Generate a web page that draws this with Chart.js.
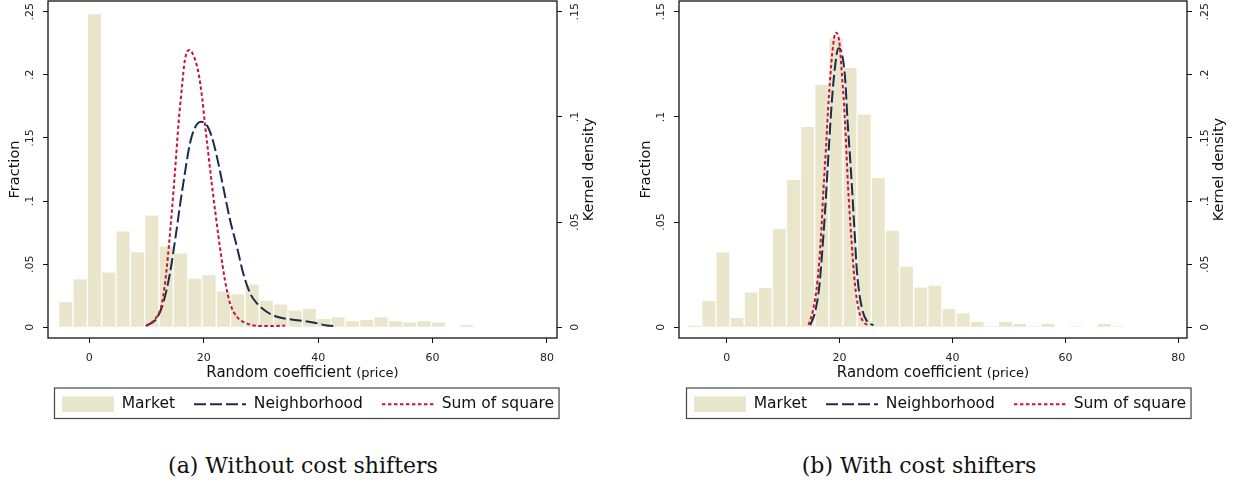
<!DOCTYPE html>
<html>
<head>
<meta charset="utf-8">
<script src="https://cdn.jsdelivr.net/npm/chart.js@4.4.1/dist/chart.umd.min.js"></script>
<style>
  body { margin: 0; background: #fff; }
  #page { position: relative; width: 1240px; height: 487px; overflow: hidden; background: #fff; }
  .panel { position: absolute; top: 0; width: 620px; height: 422px; }
  .caption {
    position: absolute; top: 452px; width: 400px; text-align: center;
    font-family: 'DejaVu Serif', serif; font-size: 22px; line-height: 28px; color: #111;
  }
</style>
</head>
<body>
<div id="page">
  <div class="panel" style="left:0"><canvas id="chartA" width="620" height="422"></canvas></div>
  <div class="panel" style="left:620px"><canvas id="chartB" width="620" height="422"></canvas></div>
  <div class="caption" style="left:103px">(a) Without cost shifters</div>
  <div class="caption" style="left:719px">(b) With cost shifters</div>
</div>
<script>
// (a) without cost shifters: histogram bins (centres) and fractions
const binsA = [-4.11, -1.60, 0.90, 3.41, 5.91, 8.42, 10.92, 13.43, 15.93, 18.44, 20.94, 23.45, 25.95, 28.46, 30.96,
  33.47, 35.97, 38.48, 40.98, 43.49, 45.99, 48.50, 51.00, 53.51, 56.01, 58.52, 61.02, 63.53, 66.03];
const marketA = [0.020, 0.038, 0.248, 0.0434, 0.0759, 0.0595, 0.0886, 0.064, 0.0585, 0.0384, 0.0413, 0.0283, 0.0262, 0.0339, 0.0209,
  0.018, 0.0132, 0.0146, 0.0066, 0.0079, 0.0048, 0.0058, 0.0079, 0.0048, 0.0037, 0.0048, 0.0037, 0, 0.0016];

// (a) kernel densities
const neighXA = [9.9, 11.8, 12.9, 14.1, 15.0, 15.9, 16.7, 17.6, 18.5, 19.5, 20.5, 21.4, 22.3, 23.4, 24.6, 25.8, 26.9,
  28.1, 29.3, 31.0, 32.8, 35.1, 37.4, 39.8, 41.5, 43.2];
const neighYA = [0.0006, 0.0043, 0.0114, 0.0257, 0.0415, 0.0589, 0.0732, 0.0875, 0.0951, 0.0977, 0.0962, 0.0906, 0.0811,
  0.0668, 0.051, 0.0383, 0.0257, 0.0162, 0.0114, 0.0074, 0.005, 0.0038, 0.003, 0.0019, 0.0008, 0.0006];
const sumsqXA = [9.9, 11.8, 12.7, 13.5, 14.4, 15.0, 15.6, 16.2, 16.7, 17.5, 18.3, 19.1, 19.7, 20.2, 20.8, 21.4, 22.2,
  22.9, 23.7, 24.6, 25.8, 27.5, 29.8, 32.2, 34.2];
const sumsqYA = [0.0006, 0.005, 0.0114, 0.0272, 0.0542, 0.0748, 0.097, 0.1144, 0.127, 0.1318, 0.1286, 0.1207, 0.1096,
  0.097, 0.0827, 0.0684, 0.051, 0.0367, 0.0225, 0.0114, 0.005, 0.0019, 0.0006, 0.0006, 0.0008];

// (b) with cost shifters
const binsB = [-5.68, -3.18, -0.67, 1.83, 4.33, 6.84, 9.34, 11.84, 14.34, 16.85, 19.35, 21.85, 24.36, 26.86, 29.36,
  31.87, 34.37, 36.87, 39.37, 41.88, 44.38, 46.88, 49.39, 51.89, 54.39, 56.90, 59.40, 61.90, 64.41, 66.91, 69.41];
const marketB = [0.0008, 0.0125, 0.0356, 0.0044, 0.0166, 0.0187, 0.0467, 0.070, 0.0952, 0.1152, 0.1373, 0.1232, 0.1012, 0.071, 0.0459,
  0.0288, 0.0189, 0.0198, 0.0087, 0.0067, 0.0025, 0.0005, 0.0025, 0.0016, 0.0005, 0.0016, 0, 0.0005, 0, 0.0016, 0.0005];

const neighXB = [14.8, 15.6, 16.4, 16.9, 17.4, 17.9, 18.4, 19.0, 19.8, 20.4, 21.0, 21.4, 22.0, 22.6, 23.1, 23.9, 24.9, 26.0];
const neighYB = [0.0018, 0.0111, 0.0322, 0.0586, 0.0903, 0.1272, 0.1642, 0.1985, 0.221, 0.217, 0.1959, 0.1642, 0.1246,
  0.0797, 0.0428, 0.0163, 0.0044, 0.0018];
const sumsqXB = [14.5, 15.3, 16.1, 16.7, 17.1, 17.6, 18.1, 18.7, 19.3, 19.9, 20.4, 21.0, 21.5, 22.1, 22.7, 23.4, 24.2, 24.9];
const sumsqYB = [0.0018, 0.0137, 0.0375, 0.0718, 0.1061, 0.1431, 0.1827, 0.217, 0.2334, 0.2276, 0.2012, 0.1589, 0.1114,
  0.0692, 0.0349, 0.0137, 0.0044, 0.0018];

// tick values and labels
const xTicks = [0, 20, 40, 60, 80];
const ticksTo25 = [0, 0.05, 0.1, 0.15, 0.2, 0.25];
const labelsTo25 = ['0', '.05', '.1', '.15', '.2', '.25'];
const ticksTo15 = [0, 0.05, 0.1, 0.15];
const labelsTo15 = ['0', '.05', '.1', '.15'];

const seriesNames = ['Market', 'Neighborhood', 'Sum of square'];

const sand = 'rgb(233, 230, 204)';
const navy = '#1c2b4f';
const crimson = '#c8143c';
const tickFont = { family: 'DejaVu Sans', size: 11 };

const toPoints = (xs, ys) => xs.map((x, i) => ({ x, y: ys[i] }));

// plot-region frame, axis titles and legend box, drawn Stata-style
const stataFrame = {
  id: 'stataFrame',
  afterLayout(chart, args, opts) {
    // move the legend row in under the plot region
    chart.legend.left += opts.legendShift;
  },
  afterDraw(chart, args, opts) {
    const { ctx, chartArea: a } = chart;
    const midY = (a.top + a.bottom) / 2;
    ctx.save();
    ctx.strokeStyle = '#111';
    ctx.lineWidth = 1.3;
    ctx.strokeRect(a.left, a.top, a.right - a.left, a.bottom - a.top);

    const boxes = chart.legend.legendHitBoxes;
    if (boxes && boxes.length) {
      const first = boxes[0];
      const last = boxes[boxes.length - 1];
      ctx.strokeStyle = '#444';
      ctx.lineWidth = 1.2;
      ctx.strokeRect(first.left - 7.5, first.top - 8.5, last.left + last.width + 5 - (first.left - 7.5), first.height + 15);
    }

    ctx.fillStyle = '#111';
    ctx.textAlign = 'center';
    ctx.textBaseline = 'middle';
    ctx.font = '14.5px "DejaVu Sans"';
    [[a.left - 33, opts.leftTitle], [a.right + 32, opts.rightTitle]].forEach(([x, text]) => {
      ctx.save();
      ctx.translate(x, midY);
      ctx.rotate(-Math.PI / 2);
      ctx.fillText(text, 0, 0);
      ctx.restore();
    });

    const mainFont = '15px "DejaVu Sans"';
    const noteFont = '13px "DejaVu Sans"';
    ctx.font = mainFont;
    const mainW = ctx.measureText(opts.xTitle).width;
    ctx.font = noteFont;
    const noteW = ctx.measureText(opts.xNote).width;
    const x = (a.left + a.right) / 2 - (mainW + noteW) / 2;
    ctx.textAlign = 'left';
    ctx.textBaseline = 'alphabetic';
    ctx.font = mainFont;
    ctx.fillText(opts.xTitle, x, a.bottom + 38.5);
    ctx.font = noteFont;
    ctx.fillText(opts.xNote, x + mainW, a.bottom + 38.5);
    ctx.restore();
  },
};

function verticalAxis(position, min, max, ticks, labels, width) {
  return {
    type: 'linear',
    position,
    min,
    max,
    afterBuildTicks: (scale) => { scale.ticks = ticks.map((v) => ({ value: v })); },
    afterFit: (scale) => { scale.width = width; scale.paddingTop = 0; scale.paddingBottom = 0; },
    ticks: {
      autoSkip: false, minRotation: 90, maxRotation: 90, crossAlign: 'center', padding: 4,
      color: '#222', font: tickFont,
      callback: (v) => labels[ticks.indexOf(v)],
    },
    grid: { drawOnChartArea: false, drawTicks: true, tickLength: 5, tickColor: '#111', tickWidth: 1 },
    border: { display: false },
  };
}

function drawPanel(canvasId, panel) {
  const context = document.getElementById(canvasId).getContext('2d');

  return new Chart(context, {
    type: 'bar',
    data: {
      datasets: [
        {
          type: 'bar', label: seriesNames[0], data: toPoints(panel.bins, panel.market), yAxisID: 'y',
          backgroundColor: sand, borderColor: sand, borderWidth: 0,
          barPercentage: 0.91, categoryPercentage: 1, order: 2,
        },
        {
          type: 'line', label: seriesNames[1], data: toPoints(panel.neighX, panel.neighY), yAxisID: 'y2',
          borderColor: navy, backgroundColor: navy, borderWidth: 2, borderDash: [12, 4],
          pointRadius: 0, fill: false, cubicInterpolationMode: 'monotone', order: 1,
        },
        {
          type: 'line', label: seriesNames[2], data: toPoints(panel.sumsqX, panel.sumsqY), yAxisID: 'y2',
          borderColor: crimson, backgroundColor: crimson, borderWidth: 2, borderDash: [3.5, 2.5],
          pointRadius: 0, fill: false, cubicInterpolationMode: 'monotone', order: 0,
        },
      ],
    },
    options: {
      responsive: false,
      animation: false,
      events: [],
      layout: { padding: { left: 0, right: 0, top: 1, bottom: 0 } },
      scales: {
        x: {
          type: 'linear',
          position: 'bottom',
          min: panel.xMin,
          max: panel.xMax,
          offset: false,
          afterBuildTicks: (scale) => { scale.ticks = xTicks.map((v) => ({ value: v })); },
          afterFit: (scale) => { scale.height = 39.5; scale.paddingLeft = 0; scale.paddingRight = 0; },
          ticks: { autoSkip: false, maxRotation: 0, padding: 8.5, color: '#222', font: tickFont },
          grid: { offset: false, drawOnChartArea: false, drawTicks: true, tickLength: 5, tickColor: '#111', tickWidth: 1 },
          border: { display: false },
        },
        y: verticalAxis('left', panel.fracMin, panel.fracMax, panel.fracTicks, panel.fracLabels, panel.leftWidth),
        y2: verticalAxis('right', panel.densMin, panel.densMax, panel.densTicks, panel.densLabels, panel.rightWidth),
      },
      plugins: {
        tooltip: { enabled: false },
        legend: {
          position: 'bottom',
          align: 'start',
          labels: {
            usePointStyle: true,
            pointStyleWidth: 52,
            padding: 19,
            color: '#111',
            font: { family: 'DejaVu Sans', size: 15.5 },
            sort: (a, b) => a.datasetIndex - b.datasetIndex,
            generateLabels: (chart) => chart.data.datasets.map((ds, i) => ({
              text: ds.label,
              datasetIndex: i,
              fillStyle: ds.backgroundColor,
              strokeStyle: ds.borderColor,
              fontColor: '#111',
              lineWidth: ds.type === 'line' ? 2 : 0,
              lineDash: ds.borderDash || [],
              pointStyle: ds.type === 'line' ? 'line' : 'rect',
              hidden: false,
            })),
          },
        },
        stataFrame: {
          leftTitle: 'Fraction',
          rightTitle: 'Kernel density',
          xTitle: 'Random coefficient ',
          xNote: '(price)',
          legendShift: panel.legendShift,
        },
      },
    },
    plugins: [stataFrame],
  });
}

drawPanel('chartA', {
  bins: binsA, market: marketA,
  neighX: neighXA, neighY: neighYA, sumsqX: sumsqXA, sumsqY: sumsqYA,
  xMin: -7.22, xMax: 81.75,
  fracMin: -0.00848, fracMax: 0.2585, fracTicks: ticksTo25, fracLabels: labelsTo25,
  densMin: -0.00509, densMax: 0.15509, densTicks: ticksTo15, densLabels: labelsTo15,
  leftWidth: 48, rightWidth: 63, legendShift: 43,
});

drawPanel('chartB', {
  bins: binsB, market: marketB,
  neighX: neighXB, neighY: neighYB, sumsqX: sumsqXB, sumsqY: sumsqYB,
  xMin: -8.45, xMax: 81.54,
  fracMin: -0.00509, fracMax: 0.15509, fracTicks: ticksTo15, fracLabels: labelsTo15,
  densMin: -0.00848, densMax: 0.2585, densTicks: ticksTo25, densLabels: labelsTo25,
  leftWidth: 59, rightWidth: 53, legendShift: 55,
});
</script>
</body>
</html>
